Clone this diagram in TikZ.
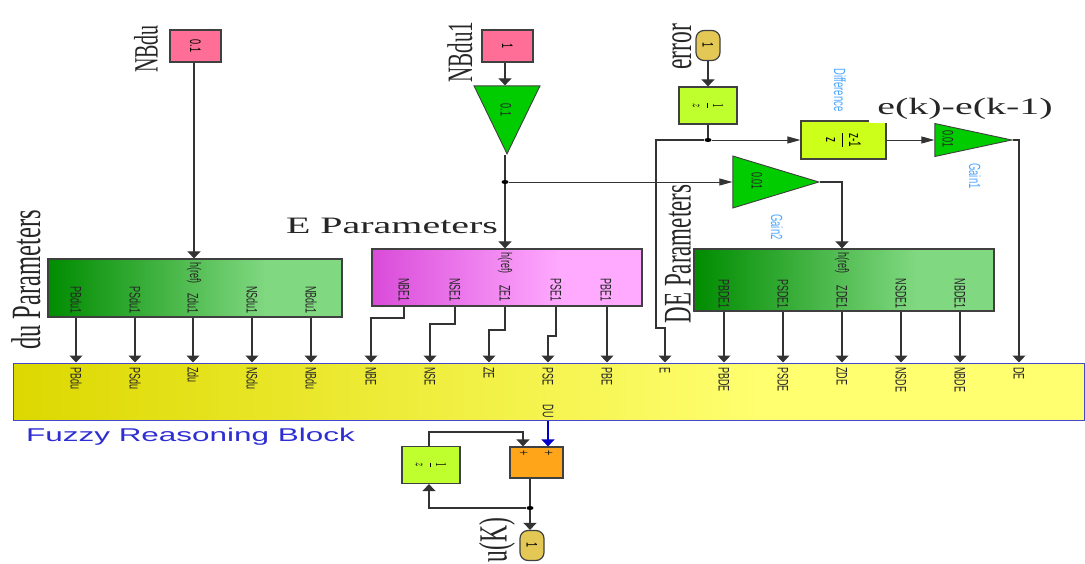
\documentclass[tikz,border=0pt]{standalone}
\usepackage{fontspec, graphicx, amsmath}
\setmainfont{Liberation Serif}
\setsansfont{Liberation Sans}
\usetikzlibrary{shapes.geometric,arrows.meta}
\definecolor{linegray}{HTML}{333333}
\definecolor{captionblue}{HTML}{4DA6FF}
\definecolor{mainblue}{HTML}{4646C8}
\definecolor{fuzzyblue}{HTML}{2E2ED2}
\definecolor{greenA}{HTML}{008C00}
\definecolor{greenB}{HTML}{80D880}
\definecolor{pinkA}{HTML}{D94BD9}
\definecolor{pinkB}{HTML}{FFAAFF}
\definecolor{yellowA}{HTML}{DCD800}
\definecolor{yellowB}{HTML}{FFFF70}
\pgfdeclarehorizontalshading{greenfade}{100bp}{color(0bp)=(greenA);color(25bp)=(greenA);color(62bp)=(greenB);color(100bp)=(greenB)}
\pgfdeclarehorizontalshading{pinkfade}{100bp}{color(0bp)=(pinkA);color(25bp)=(pinkA);color(60bp)=(pinkB);color(100bp)=(pinkB)}
\pgfdeclarehorizontalshading{yellowfade}{100bp}{color(0bp)=(yellowA);color(25bp)=(yellowA);color(60bp)=(yellowB);color(100bp)=(yellowB)}
\newcommand{\dn}[1]{\scalebox{1.7}[1]{\rotatebox{-90}{#1}}}
\newcommand{\up}[1]{\scalebox{1.7}[1]{\rotatebox{90}{#1}}}
\newcommand{\wide}[1]{\scalebox{1.7}[1]{#1}}
\tikzstyle{block} = [rectangle, inner sep=0pt, draw=black!75, line width=1.2pt, font=\sffamily\fontsize{9}{9}\selectfont]
\tikzstyle{source} = [block, fill={rgb,255:red,255;green,110;blue,150}, minimum width=51pt, minimum height=32pt]
\tikzstyle{delay} = [block, fill={rgb,255:red,190;green,255;blue,45}, minimum width=58pt, minimum height=37pt]
\tikzstyle{port} = [block, rounded corners=8pt, fill={rgb,255:red,227;green,200;blue,85}, minimum width=24pt, minimum height=30pt]
\tikzstyle{gain} = [isosceles triangle, isosceles triangle stretches, inner sep=0pt, draw=black!75, line width=0.9pt, fill={rgb,255:red,0;green,204;blue,0}]
\tikzstyle{greentable} = [rectangle, inner sep=0pt, draw=black!75, line width=1.2pt, shade, shading=greenfade]
\tikzstyle{pinktable} = [rectangle, inner sep=0pt, draw=black!75, line width=1.2pt, shade, shading=pinkfade]
\tikzstyle{fuzzy} = [rectangle, inner sep=0pt, draw=mainblue, line width=1pt, shade, shading=yellowfade]
\tikzstyle{tiny} = [inner sep=0pt, font=\sffamily\fontsize{9}{9}\selectfont, text=black!85]
\tikzstyle{caption} = [inner sep=0pt, font=\sffamily\fontsize{9.5}{9.5}\selectfont, text=captionblue]
\tikzstyle{big} = [inner sep=0pt, font=\fontsize{23.5}{23.5}\selectfont, text=black!85]
\tikzstyle{dot} = [ellipse, inner sep=0pt, minimum width=7pt, minimum height=4pt, fill=black]
\tikzstyle{arrow} = [line width=1.2pt, draw=linegray, -{Triangle[length=7pt,width=13pt]}]
\tikzstyle{harrow} = [line width=0.9pt, draw=linegray, -{Triangle[length=13pt,width=7pt]}]
\tikzstyle{wire} = [line width=1.2pt, draw=linegray]
\begin{document}
\begin{tikzpicture}[x=1pt,y=-1pt]
\useasboundingbox (0,0) rectangle (1085,564);
\node (fuzzy) [fuzzy, minimum width=1071pt, minimum height=57pt] at (548.5,391.5) {};
\node (dutab) [greentable, minimum width=294pt, minimum height=58pt] at (195,288) {};
\node (etab) [pinktable, minimum width=270pt, minimum height=57pt] at (507,277.5) {};
\node (detab) [greentable, minimum width=300pt, minimum height=62pt] at (844,280) {};
\node (nbdu) [source] at (195.5,46) {\dn{0.1}};
\node (nbduone) [source] at (507.5,46) {\dn{1}};
\node (gainnb) [gain, shape border rotate=-90, minimum width=66pt, minimum height=68pt, anchor=apex] at (507,155) {};
\node (tgainnb) at (506,110) [tiny] {\dn{0.1}};
\node (error) [port] at (708,45.5) {\dn{1}};
\node (delaye) [delay] at (708,105.5) {\dn{$\dfrac{1}{z}$}};
\node (diff) [block, fill={rgb,255:red,204;green,255;blue,26}, minimum width=85pt, minimum height=38pt] at (843.5,140) {\dn{\fontsize{10}{10}\selectfont $\dfrac{\text{z-1}}{\text{z}}$}};
\node (gaindiff) [gain, minimum width=33pt, minimum height=77pt, anchor=apex] at (1013,140) {};
\node (tgaindiff) at (948,139) [tiny] {\dn{0.01}};
\node (gaine) [gain, minimum width=52pt, minimum height=86pt, anchor=apex] at (820,182) {};
\node (tgaine) at (757,181) [tiny] {\dn{0.01}};
\node (delayu) [delay] at (431,465) {\dn{$\dfrac{1}{z}$}};
\node (sumu) [block, fill={rgb,255:red,255;green,165;blue,25}, minimum width=53pt, minimum height=31pt] at (536.5,462.5) {};
\node (plusa) [tiny, anchor=north] at (523,450) {\dn{+}};
\node (plusb) [tiny, anchor=north] at (548,450) {\dn{+}};
\node (outk) [port] at (532,545.5) {\dn{1}};
\node (lnbdu) [big, font=\fontsize{20}{20}\selectfont] at (146,49) {\up{NBdu}};
\node (lnbduone) [big, font=\fontsize{21}{21}\selectfont] at (460,52) {\up{NBdu1}};
\node (lerror) [big] at (682,47) {\up{error}};
\node (lu) [big] at (497,540) {\up{u(K)}};
\node (ldu) [big, font=\fontsize{24.5}{24.5}\selectfont] at (26,280) {\up{du Parameters}};
\node (lde) [big, font=\fontsize{23}{23}\selectfont] at (678,254) {\up{DE Parameters}};
\node (le) [big] at (392,226) {\wide{E Parameters}};
\node (lek) [big, fill=white, inner xsep=8pt, inner ysep=3pt] at (965,109) {\wide{e(k)-e(k-1)}};
\node (lfuzzy) [inner sep=0pt, font=\sffamily\fontsize{18.5}{18.5}\selectfont, text=fuzzyblue] at (190.5,436.5) {\wide{Fuzzy Reasoning Block}};
\node (ldiff) [caption] at (840,90) {\dn{Difference}};
\node (lgaina) [caption] at (975,176) {\dn{Gain1}};
\node (lgainb) [caption] at (777,227) {\dn{Gain2}};
\node (hrefdu) [tiny, anchor=north] at (194,262) {\dn{h(ref)}};
\node (hrefe) [tiny, anchor=north] at (505,252) {\dn{h(ref)}};
\node (hrefde) [tiny, anchor=north] at (842,252) {\dn{h(ref)}};
\node (PBduone) [tiny, anchor=south] at (76,314) {\dn{PBdu1}};
\node (PSduone) [tiny, anchor=south] at (135,314) {\dn{PSdu1}};
\node (Zduone) [tiny, anchor=south] at (193,314) {\dn{Zdu1}};
\node (NSduone) [tiny, anchor=south] at (252,314) {\dn{NSdu1}};
\node (NBduone) [tiny, anchor=south] at (311,314) {\dn{NBdu1}};
\node (NBEone) [tiny, anchor=south] at (404,302) {\dn{NBE1}};
\node (NSEone) [tiny, anchor=south] at (455,302) {\dn{NSE1}};
\node (ZEone) [tiny, anchor=south] at (505,302) {\dn{ZE1}};
\node (PSEone) [tiny, anchor=south] at (556,302) {\dn{PSE1}};
\node (PBEone) [tiny, anchor=south] at (606,302) {\dn{PBE1}};
\node (PBDEone) [tiny, anchor=south] at (724,309) {\dn{PBDE1}};
\node (PSDEone) [tiny, anchor=south] at (783,309) {\dn{PSDE1}};
\node (ZDEone) [tiny, anchor=south] at (842,309) {\dn{ZDE1}};
\node (NSDEone) [tiny, anchor=south] at (901,309) {\dn{NSDE1}};
\node (NBDEone) [tiny, anchor=south] at (960,309) {\dn{NBDE1}};
\node (PBdu) [tiny, anchor=north] at (76,367) {\dn{PBdu}};
\node (PSdu) [tiny, anchor=north] at (135,367) {\dn{PSdu}};
\node (Zdu) [tiny, anchor=north] at (193,367) {\dn{Zdu}};
\node (NSdu) [tiny, anchor=north] at (252,367) {\dn{NSdu}};
\node (NBdu) [tiny, anchor=north] at (311,367) {\dn{NBdu}};
\node (NBE) [tiny, anchor=north] at (371,367) {\dn{NBE}};
\node (NSE) [tiny, anchor=north] at (430,367) {\dn{NSE}};
\node (ZE) [tiny, anchor=north] at (489,367) {\dn{ZE}};
\node (PSE) [tiny, anchor=north] at (548,367) {\dn{PSE}};
\node (PBE) [tiny, anchor=north] at (607,367) {\dn{PBE}};
\node (E) [tiny, anchor=north] at (665,367) {\dn{E}};
\node (PBDE) [tiny, anchor=north] at (724,367) {\dn{PBDE}};
\node (PSDE) [tiny, anchor=north] at (783,367) {\dn{PSDE}};
\node (ZDE) [tiny, anchor=north] at (842,367) {\dn{ZDE}};
\node (NSDE) [tiny, anchor=north] at (901,367) {\dn{NSDE}};
\node (NBDE) [tiny, anchor=north] at (960,367) {\dn{NBDE}};
\node (DE) [tiny, anchor=north] at (1019,367) {\dn{DE}};
\node (DU) [tiny, anchor=south] at (548,418) {\dn{DU}};
\node (jnb) [dot] at (505,182) {};
\node (jerr) [dot] at (708,140) {};
\node (ju) [dot] at (530,508) {};
\coordinate (bendNBE) at (371,318);
\coordinate (bendNSE) at (430,324);
\coordinate (bendZE) at (489,330);
\coordinate (bendPSE) at (548,336);
\coordinate (bendE) at (656,328);
\coordinate (fbtop) at (429,432);
\draw [arrow] (hrefdu |- nbdu.south) -- (hrefdu |- dutab.north);
\draw [arrow] (hrefe |- nbduone.south) -- (hrefe |- gainnb.lower side);
\draw [wire] (hrefe |- gainnb.apex) -- (jnb);
\draw [arrow] (jnb) -- (hrefe |- etab.north);
\draw [harrow] (jnb) -- (gaine.lower side);
\draw [arrow] (gaine.apex) -| (hrefde |- detab.north);
\draw [arrow] (error) -- (delaye);
\draw [wire] (delaye) -- (jerr);
\draw [harrow] (jerr) -- (diff.west);
\draw [harrow] (diff.east) -- (gaindiff.lower side);
\draw [arrow] (gaindiff.apex) -| (DE |- fuzzy.north);
\draw [arrow] (jerr) -| (bendE) -| (E |- fuzzy.north);
\draw [arrow] (PBduone |- dutab.south) -- (PBdu |- fuzzy.north);
\draw [arrow] (PSduone |- dutab.south) -- (PSdu |- fuzzy.north);
\draw [arrow] (Zduone |- dutab.south) -- (Zdu |- fuzzy.north);
\draw [arrow] (NSduone |- dutab.south) -- (NSdu |- fuzzy.north);
\draw [arrow] (NBduone |- dutab.south) -- (NBdu |- fuzzy.north);
\draw [arrow] (NBEone |- etab.south) |- (bendNBE) -- (NBE |- fuzzy.north);
\draw [arrow] (NSEone |- etab.south) |- (bendNSE) -- (NSE |- fuzzy.north);
\draw [arrow] (ZEone |- etab.south) |- (bendZE) -- (ZE |- fuzzy.north);
\draw [arrow] (PSEone |- etab.south) |- (bendPSE) -- (PSE |- fuzzy.north);
\draw [arrow] (PBE |- etab.south) -- (PBE |- fuzzy.north);
\draw [arrow] (PBDEone |- detab.south) -- (PBDE |- fuzzy.north);
\draw [arrow] (PSDEone |- detab.south) -- (PSDE |- fuzzy.north);
\draw [arrow] (ZDEone |- detab.south) -- (ZDE |- fuzzy.north);
\draw [arrow] (NSDEone |- detab.south) -- (NSDE |- fuzzy.north);
\draw [arrow] (NBDEone |- detab.south) -- (NBDE |- fuzzy.north);
\draw [arrow, draw=blue!80!black, -{Triangle[length=7pt,width=13pt,fill=blue!80!black]}] (DU |- fuzzy.south) -- (plusb |- sumu.north);
\draw [arrow] (fbtop |- delayu.north) -- (fbtop) -| (plusa |- sumu.north);
\draw [wire] (ju |- sumu.south) -- (ju);
\draw [arrow] (ju) -- (ju |- outk.north);
\draw [arrow] (ju) -| (fbtop |- delayu.south);
\end{tikzpicture}
\end{document}
